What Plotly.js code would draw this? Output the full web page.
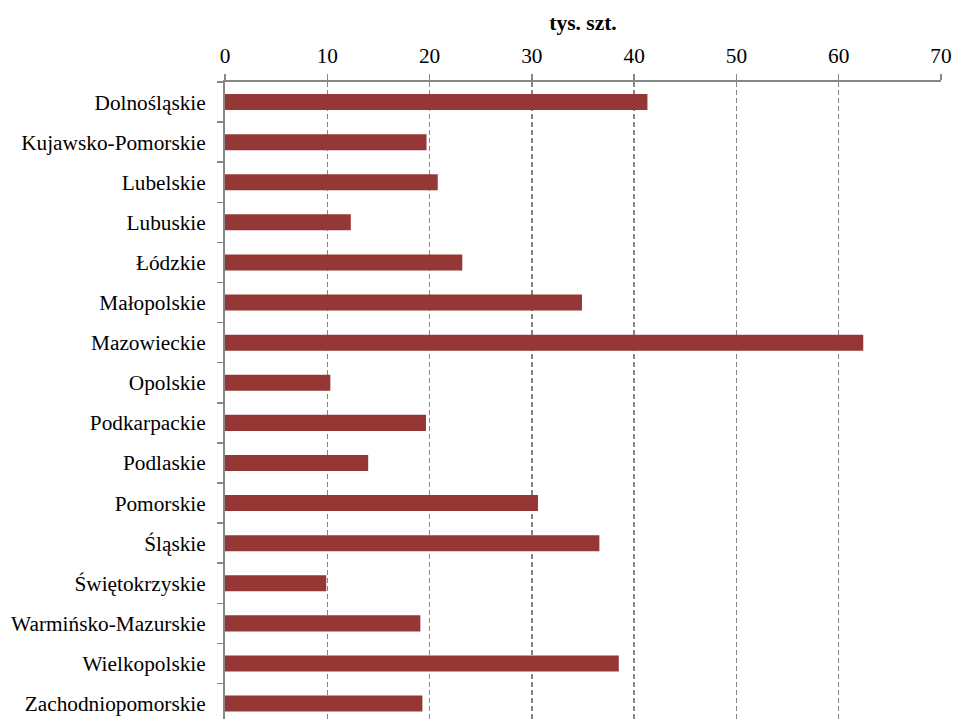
<!DOCTYPE html>
<html>
<head>
<meta charset="utf-8">
<script src="https://cdn.plot.ly/plotly-3.0.1.min.js"></script>
<style>
  html, body { margin: 0; padding: 0; background: #ffffff; }
  #chart { width: 953px; height: 719px; }
</style>
</head>
<body>
<div id="chart"></div>
<script>
// Voivodeships, listed top to bottom
const regions = [
  "Dolnośląskie",
  "Kujawsko-Pomorskie",
  "Lubelskie",
  "Lubuskie",
  "Łódzkie",
  "Małopolskie",
  "Mazowieckie",
  "Opolskie",
  "Podkarpackie",
  "Podlaskie",
  "Pomorskie",
  "Śląskie",
  "Świętokrzyskie",
  "Warmińsko-Mazurskie",
  "Wielkopolskie",
  "Zachodniopomorskie"
];

// Values in thousands of units (tys. szt.)
const values = [
  41.3, 19.7, 20.8, 12.3, 23.2, 34.9, 62.4, 10.3,
  19.65, 14.0, 30.6, 36.6, 9.9, 19.1, 38.5, 19.3
];

const xTicks = [0, 10, 20, 30, 40, 50, 60, 70];
const axisTitle = "tys. szt.";

const fontFamily = "Liberation Serif, Times New Roman, serif";
const gray = "#868686";

const trace = {
  type: "bar",
  orientation: "h",
  x: values,
  y: regions,
  width: 0.4,
  marker: { color: "#953735", line: { width: 0 } },
  hoverinfo: "x+y"
};

const layout = {
  width: 953,
  height: 719,
  margin: { l: 225, r: 12, t: 82, b: 0, pad: 0 },
  paper_bgcolor: "#ffffff",
  plot_bgcolor: "#ffffff",
  showlegend: false,
  font: { family: fontFamily, size: 21.3, color: "#000000" },
  xaxis: {
    side: "top",
    range: [0, 70],
    tickvals: xTicks,
    ticktext: xTicks.map(String),
    showline: true,
    linecolor: gray,
    linewidth: 2,
    ticks: "outside",
    ticklen: 6,
    tickwidth: 1.5,
    tickcolor: gray,
    ticklabelstandoff: 2,
    showgrid: true,
    gridcolor: gray,
    gridwidth: 1.5,
    griddash: "5px,3px",
    zeroline: false,
    tickfont: { family: fontFamily, size: 21.3, color: "#000000" },
    title: {
      text: axisTitle,
      font: { family: fontFamily, size: 21.5, color: "#000000", weight: 700 },
      standoff: 8
    },
    automargin: false,
    fixedrange: true
  },
  yaxis: {
    type: "category",
    categoryorder: "array",
    categoryarray: regions,
    range: [15.385, -0.5],
    showline: true,
    linecolor: gray,
    linewidth: 2,
    ticks: "outside",
    tickson: "boundaries",
    ticklen: 6,
    tickwidth: 1.5,
    tickcolor: gray,
    ticklabelstandoff: 13,
    showgrid: false,
    zeroline: false,
    tickfont: { family: fontFamily, size: 21.3, color: "#000000" },
    automargin: false,
    fixedrange: true
  }
};

Plotly.newPlot("chart", [trace], layout, { displayModeBar: false, staticPlot: true });
</script>
</body>
</html>
